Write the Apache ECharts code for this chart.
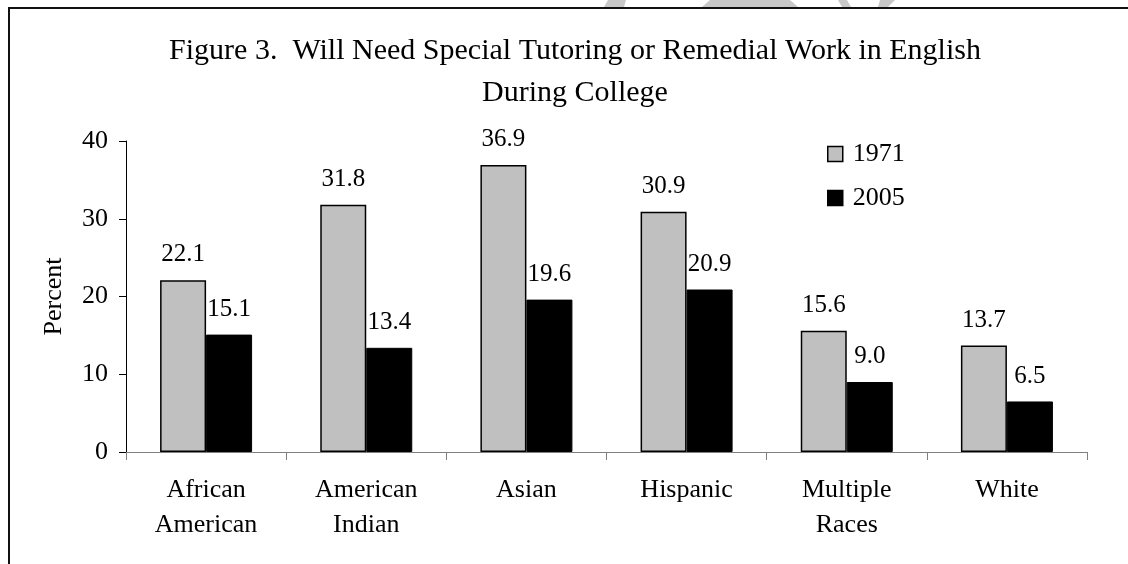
<!DOCTYPE html>
<html>
<head>
<meta charset="utf-8">
<script src="https://cdn.jsdelivr.net/npm/echarts@6/dist/echarts.min.js"></script>
<style>
html,body{margin:0;padding:0;background:#fff;}
#c{width:1128px;height:564px;}
</style>
</head>
<body>
<div id="c"></div>
<script>
const categories = ['African\nAmerican', 'American\nIndian', 'Asian', 'Hispanic', 'Multiple\nRaces', 'White'];
const values1971 = [22.1, 31.8, 36.9, 30.9, 15.6, 13.7];
const values2005 = [15.1, 13.4, 19.6, 20.9, 9.0, 6.5];
const seriesNames = ['1971', '2005'];
const titleText = 'Figure 3.  Will Need Special Tutoring or Remedial Work in English\nDuring College';
const yAxisName = 'Percent';

const FONT = '"Liberation Serif", "Times New Roman", serif';
const chart = echarts.init(document.getElementById('c'));

const labelOpt = {
  show: true,
  position: 'top',
  distance: 13,
  color: '#000',
  fontFamily: FONT,
  fontSize: 25,
  formatter: p => p.value.toFixed(1)
};

chart.setOption({
  backgroundColor: '#fff',
  animation: false,
  graphic: [
    { type: 'rect', z: 1, shape: { x: 9, y: 8, width: 1200, height: 700 }, style: { fill: 'none', stroke: '#111', lineWidth: 2 } },
    { type: 'polygon', z: 0, shape: { points: [[604, 7], [608, 0], [626, 0], [624, 7]] }, style: { fill: '#c8c8c8' } },
    { type: 'polygon', z: 0, shape: { points: [[702, 7], [710, 0], [790, 0], [798, 7]] }, style: { fill: '#c8c8c8' } },
    { type: 'polygon', z: 0, shape: { points: [[838, 0], [847, 0], [851, 7], [842, 7]] }, style: { fill: '#c8c8c8' } },
    { type: 'polygon', z: 0, shape: { points: [[880, 0], [895, 0], [888, 7], [878, 7]] }, style: { fill: '#c8c8c8' } }
  ],
  title: {
    text: titleText,
    left: 570,
    textAlign: 'center',
    top: 25,
    textStyle: { fontFamily: FONT, fontSize: 30, fontWeight: 'normal', color: '#000', lineHeight: 42 }
  },
  legend: {
    orient: 'vertical',
    left: 827,
    top: 141,
    padding: 0,
    icon: 'rect',
    itemWidth: 15,
    itemHeight: 15,
    itemGap: 18,
    data: seriesNames,
    itemStyle: { borderColor: '#000', borderWidth: 1.5 },
    textStyle: { fontFamily: FONT, fontSize: 26, color: '#000', lineHeight: 24, padding: [0, 0, 0, 5] }
  },
  grid: { left: 126, right: 41, top: 141, bottom: 112, containLabel: false },
  xAxis: {
    type: 'category',
    data: categories,
    axisLine: { lineStyle: { color: '#808080', width: 1 } },
    axisTick: { show: true, length: 8, lineStyle: { color: '#808080' } },
    axisLabel: { margin: 21, fontFamily: FONT, fontSize: 26, color: '#000', lineHeight: 35, interval: 0 }
  },
  yAxis: {
    type: 'value',
    min: 0,
    max: 40,
    interval: 10,
    name: yAxisName,
    nameLocation: 'middle',
    nameRotate: 90,
    nameGap: 59,
    nameTextStyle: { fontFamily: FONT, fontSize: 26, color: '#000' },
    splitLine: { show: false },
    axisLine: { show: true, lineStyle: { color: '#000', width: 1 } },
    axisTick: { show: true, length: 7, lineStyle: { color: '#000' } },
    axisLabel: { margin: 18, fontFamily: FONT, fontSize: 26, color: '#000' }
  },
  series: [
    {
      name: seriesNames[0],
      type: 'bar',
      data: values1971,
      barWidth: 46,
      barGap: '0%',
      itemStyle: { color: '#c0c0c0', borderColor: '#000', borderWidth: 1.5 },
      label: labelOpt
    },
    {
      name: seriesNames[1],
      type: 'bar',
      data: values2005,
      barWidth: 46,
      barGap: '0%',
      itemStyle: { color: '#000', borderColor: '#000', borderWidth: 1 },
      label: labelOpt
    }
  ]
});
</script>
</body>
</html>
